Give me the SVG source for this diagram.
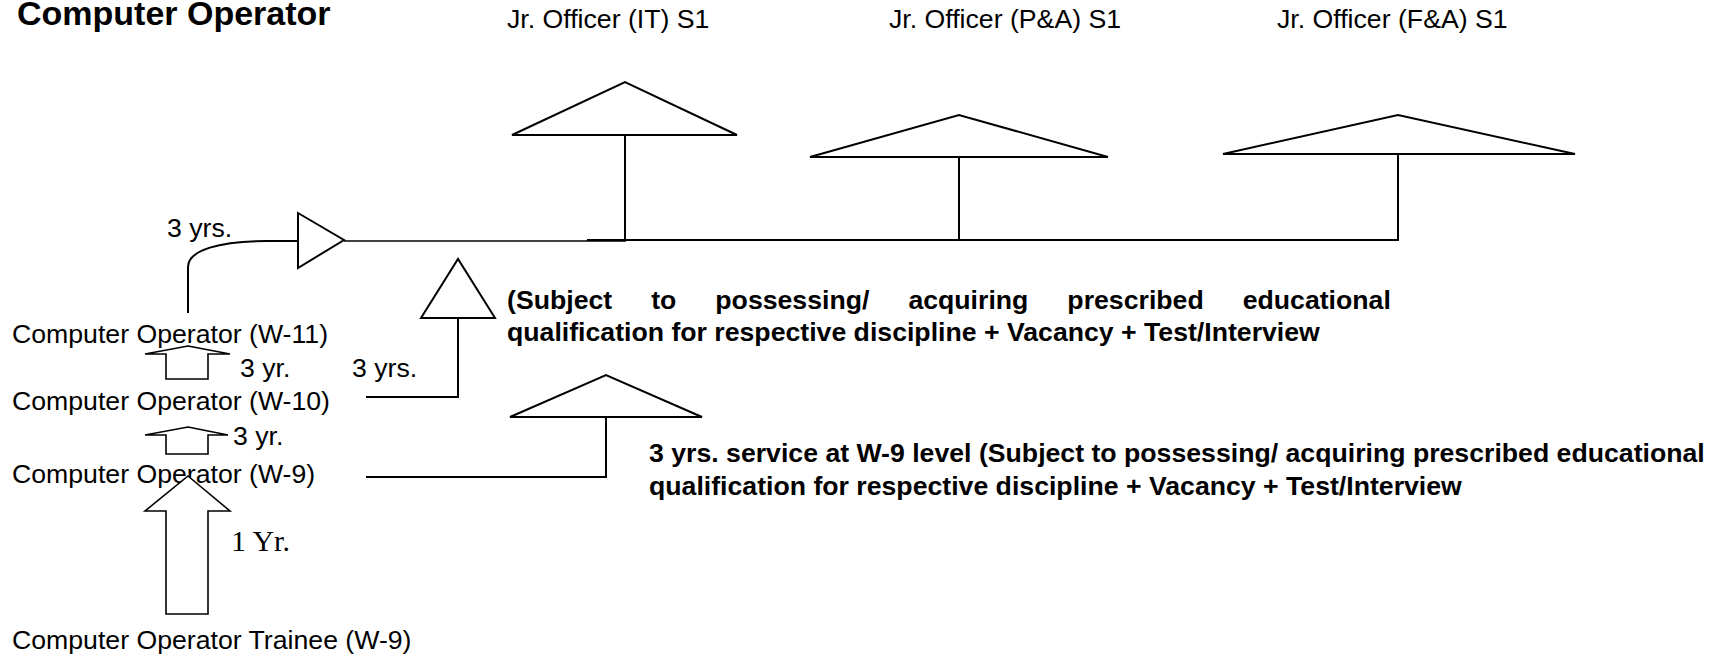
<svg xmlns="http://www.w3.org/2000/svg" width="1711" height="657" viewBox="0 0 1711 657">
  <style>
    .t { font-family: "Liberation Sans", Arial, sans-serif; font-size: 26.67px; fill: #000; }
    .b { font-weight: bold; }
    .serif { font-family: "Liberation Serif", "Times New Roman", serif; font-size: 30px; fill: #000; }
    .ln { fill: none; stroke: #000; stroke-width: 2; }
    .head { fill: #fff; stroke: #000; stroke-width: 2; stroke-linejoin: miter; }
    .blk { fill: #fff; stroke: #000; stroke-width: 1.6; }
  </style>
  <rect width="1711" height="657" fill="#fff"/>

  <!-- heading -->
  <g id="title">
    <text class="t b" x="17" y="25" style="font-size:34px">Computer Operator</text>
  </g>

  <!-- target posts -->
  <g id="jr-officer-it">
    <text class="t" x="507" y="28">Jr. Officer (IT) S1</text>
  </g>
  <g id="jr-officer-pa">
    <text class="t" x="889" y="28">Jr. Officer (P&amp;A) S1</text>
  </g>
  <g id="jr-officer-fa">
    <text class="t" x="1277" y="28">Jr. Officer (F&amp;A) S1</text>
  </g>

  <!-- grade ladder -->
  <g id="co-w11">
    <text class="t" x="12" y="343">Computer Operator (W-11)</text>
  </g>
  <g id="co-w10">
    <text class="t" x="12" y="410">Computer Operator (W-10)</text>
  </g>
  <g id="co-w9">
    <text class="t" x="12" y="483">Computer Operator (W-9)</text>
  </g>
  <g id="co-trainee">
    <text class="t" x="12" y="649">Computer Operator Trainee (W-9)</text>
  </g>

  <!-- eligibility notes -->
  <g id="note-w10">
    <text class="t b" x="507" y="309" word-spacing="31.6">(Subject to possessing/ acquiring prescribed educational</text>
    <text class="t b" x="507" y="341">qualification for respective discipline + Vacancy + Test/Interview</text>
  </g>
  <g id="note-w9">
    <text class="t b" x="649" y="462">3 yrs. service at W-9 level (Subject to possessing/ acquiring prescribed educational</text>
    <text class="t b" x="649" y="495">qualification for respective discipline + Vacancy + Test/Interview</text>
  </g>

  <g id="connectors">
    <!-- W-11 route into the common feed line -->
    <path class="ln" d="M188,313 V267 C188,250 220,241 267,241 H298"/>
    <polygon class="head" points="298,213 344,240 298,268"/>
    <line x1="344" y1="241" x2="626" y2="241" stroke="#000" stroke-width="1.6"/>
    <polyline class="ln" points="587,240 1398,240 1398,154"/>
    <line class="ln" x1="625" y1="135" x2="625" y2="240"/>
    <line class="ln" x1="959" y1="157" x2="959" y2="240"/>
    <polygon class="head" points="512,135 625,82 737,135"/>
    <polygon class="head" points="810,157 959,115 1108,157"/>
    <polygon class="head" points="1223,154 1398,115 1575,154"/>
    <text class="t" x="167" y="237">3 yrs.</text>

    <!-- W-10 route -->
    <polyline class="ln" points="366,397 458,397 458,318"/>
    <polygon class="head" points="421,318 458,259 495,318"/>
    <text class="t" x="352" y="377">3 yrs.</text>

    <!-- W-9 route -->
    <polyline class="ln" points="366,477 606,477 606,417"/>
    <polygon class="head" points="510,417 606,375 702,417"/>

    <!-- block arrows between grades -->
    <polygon class="blk" points="188,346 230,354 208,354 208,379 166,379 166,354 145,354"/>
    <text class="t" x="240" y="377">3 yr.</text>
    <polygon class="blk" points="188,427 228,435 208,435 208,454 166,454 166,435 145,435"/>
    <text class="t" x="233" y="445">3 yr.</text>
    <polygon class="blk" points="188,476 230,511 208,511 208,614 166,614 166,511 145,511"/>
    <text class="serif" x="231" y="551">1 Yr.</text>
  </g>
</svg>
